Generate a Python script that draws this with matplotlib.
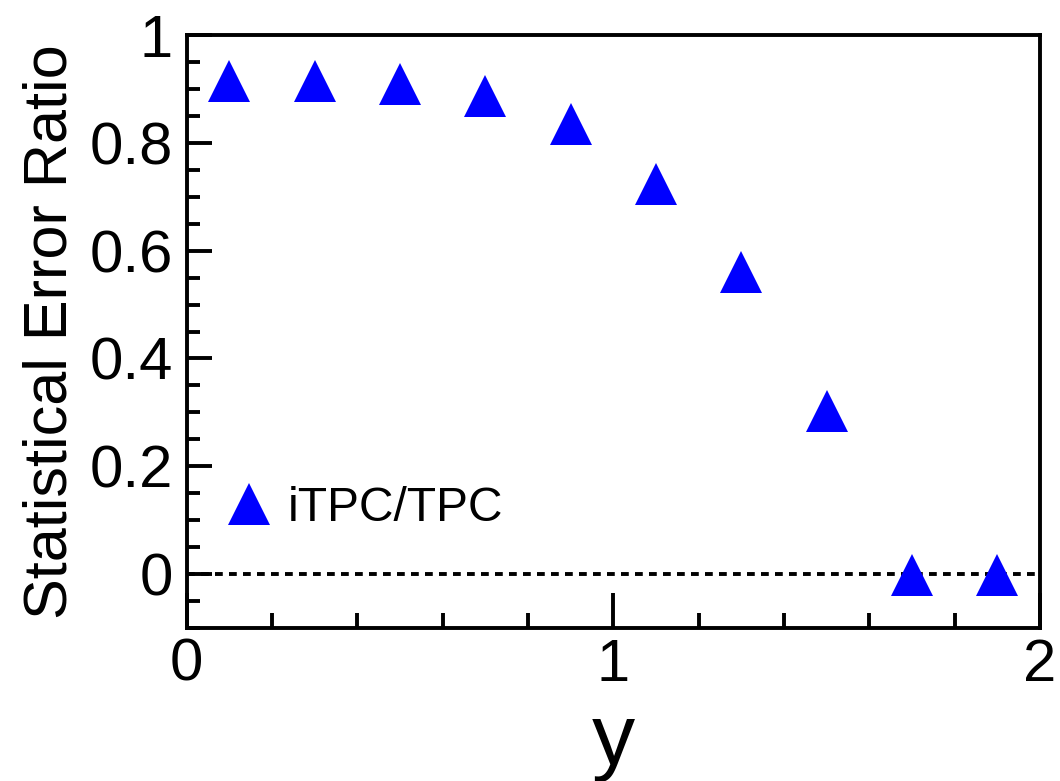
import numpy as np
import matplotlib
matplotlib.use("Agg")
import matplotlib.pyplot as plt
from matplotlib.ticker import MultipleLocator, FormatStrFormatter

# rapidity bins and error ratio
rapidity = [0.1, 0.3, 0.5, 0.7, 0.9, 1.1, 1.3, 1.5, 1.7, 1.9]
ratio = [0.915, 0.915, 0.91, 0.887, 0.835, 0.724, 0.56, 0.302, -0.002, -0.002]
series_label = "iTPC/TPC"

plt.rcParams['font.family'] = ['Liberation Sans', 'DejaVu Sans']

fig = plt.figure(figsize=(10.6, 7.81), dpi=100)
ax = fig.add_axes([0.176, 0.196, 0.805, 0.759])

ax.axhline(0, color='black', lw=2.8, ls=(0, (2.0, 1.6)), zorder=1)
ax.plot(rapidity, ratio, ls='none', marker='^', ms=30, mew=0, color='#0000ff',
        label=series_label, zorder=3)

ax.set_xlim(0, 2)
ax.set_ylim(-0.1, 1)

ax.xaxis.set_major_locator(MultipleLocator(1))
ax.xaxis.set_minor_locator(MultipleLocator(0.2))
ax.yaxis.set_major_locator(MultipleLocator(0.2))
ax.yaxis.set_minor_locator(MultipleLocator(0.05))
ax.xaxis.set_major_formatter(FormatStrFormatter('%g'))
ax.yaxis.set_major_formatter(FormatStrFormatter('%g'))

ax.tick_params(axis='both', which='both', direction='in', top=False, right=False,
               labelsize=43, width=2.8)
ax.tick_params(axis='x', which='major', length=25, pad=7)
ax.tick_params(axis='x', which='minor', length=11)
ax.tick_params(axis='y', which='major', length=18, pad=10)
ax.tick_params(axis='y', which='minor', length=9.5)

for sp in ax.spines.values():
    sp.set_linewidth(2.8)

ax.set_xlabel("y", fontsize=62, labelpad=7)
ax.set_ylabel("Statistical Error Ratio", fontsize=44, labelpad=7)

ax.legend(loc='center left', bbox_to_anchor=(-0.005, 0.2015), frameon=False,
          fontsize=34.5, handlelength=1.0, handletextpad=0.3, numpoints=1)

fig.savefig("out.png", dpi=100)
